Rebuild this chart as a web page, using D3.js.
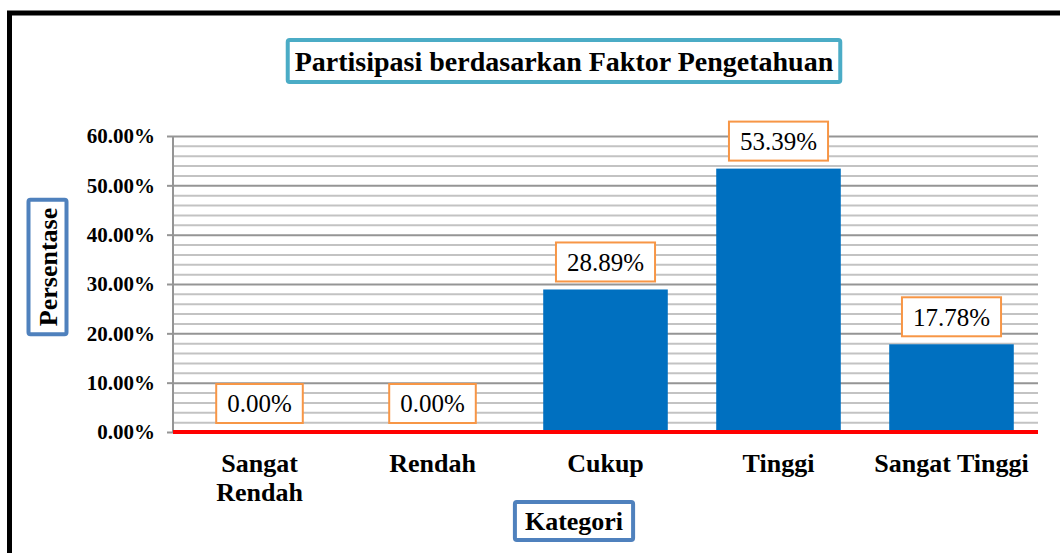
<!DOCTYPE html>
<html>
<head>
<meta charset="utf-8">
<script src="https://cdn.jsdelivr.net/npm/d3@7"></script>
<style>
  body { margin: 0; background: #fff; }
  text { font-family: "Liberation Serif", "Times New Roman", serif; }
</style>
</head>
<body>
<div id="chart"></div>
<script>
    // chart data
    var categories = ["Sangat Rendah", "Rendah", "Cukup", "Tinggi", "Sangat Tinggi"];
    var categoryLines = [["Sangat", "Rendah"], ["Rendah"], ["Cukup"], ["Tinggi"], ["Sangat Tinggi"]];
    var values = [0.00, 0.00, 28.89, 53.39, 17.78];
    var yTicks = [0, 10, 20, 30, 40, 50, 60];

    var svgWidth = 1060;
    var svgHeight = 553;

    var margin = { top: 136, right: 22, bottom: 121, left: 173 };
    var width = svgWidth - margin.left - margin.right;
    var height = svgHeight - margin.top - margin.bottom;

    var svg = d3.select("#chart")
        .append("svg")
        .attr("width", svgWidth)
        .attr("height", svgHeight);

    // outer frame (only top and left visible)
    svg.append("path")
        .attr("d", "M9.5,1000 L9.5,13 L1100,13")
        .attr("fill", "none")
        .attr("stroke", "#000")
        .attr("stroke-width", 5);

    var chartGroup = svg.append("g")
        .attr("transform", `translate(${margin.left}, ${margin.top})`);

    // scales
    var xBandScale = d3.scaleBand()
        .domain(categories)
        .range([0, width])
        .paddingInner(0.28)
        .paddingOuter(0.14);

    var yLinearScale = d3.scaleLinear()
        .domain([0, 60])
        .range([height, 0]);

    // minor + major gridlines
    var minorTicks = d3.range(0, 61, 2).filter(d => d % 10 !== 0);
    chartGroup.append("g")
        .call(d3.axisLeft(yLinearScale).tickValues(minorTicks).tickSize(-width).tickFormat(""))
        .call(g => g.select(".domain").remove())
        .call(g => g.selectAll("line").attr("stroke", "#c3c3c3").attr("stroke-width", 2));

    chartGroup.append("g")
        .call(d3.axisLeft(yLinearScale).tickValues(yTicks).tickSize(-width).tickFormat(""))
        .call(g => g.select(".domain").remove())
        .call(g => g.selectAll("line").attr("stroke", "#959595").attr("stroke-width", 2));

    // left axis with labels
    var leftAxis = d3.axisLeft(yLinearScale)
        .tickValues(yTicks)
        .tickSize(6)
        .tickPadding(12)
        .tickFormat(d => d.toFixed(2) + "%");

    chartGroup.append("g")
        .call(leftAxis)
        .call(g => g.select(".domain").attr("stroke", "#959595").attr("stroke-width", 2)
            .attr("d", `M0,${height}V0`))
        .call(g => g.selectAll(".tick line").attr("stroke", "#959595").attr("stroke-width", 2))
        .call(g => g.selectAll(".tick text")
            .attr("fill", "#000")
            .style("font-family", "'Liberation Serif', 'Times New Roman', serif")
            .style("font-size", "21px")
            .style("font-weight", "bold"));

    // bars
    chartGroup.selectAll(".bar")
        .data(values)
        .enter()
        .append("rect")
        .attr("class", "bar")
        .attr("x", (d, i) => xBandScale(categories[i]))
        .attr("y", d => yLinearScale(d))
        .attr("width", xBandScale.bandwidth())
        .attr("height", d => height - yLinearScale(d))
        .attr("fill", "#0070c0");

    // red baseline
    chartGroup.append("line")
        .attr("x1", 0)
        .attr("x2", width)
        .attr("y1", yLinearScale(0))
        .attr("y2", yLinearScale(0))
        .attr("stroke", "#ff0000")
        .attr("stroke-width", 4);

    // value labels in orange boxes
    var labels = chartGroup.selectAll(".valLabel")
        .data(values)
        .enter()
        .append("g")
        .attr("class", "valLabel");

    labels.each(function(d, i) {
        var g = d3.select(this);
        var cx = xBandScale(categories[i]) + xBandScale.bandwidth() / 2;
        var bottom = yLinearScale(d) - (d === 0 ? 9 : 8);
        var boxH = 39;
        var txt = g.append("text")
            .attr("x", cx)
            .attr("y", bottom - boxH / 2)
            .attr("dy", "0.35em")
            .attr("text-anchor", "middle")
            .style("font-size", "25px")
            .attr("fill", "#000")
            .text(d.toFixed(2) + "%");
        var w = txt.node().getComputedTextLength() + 22;
        g.insert("rect", "text")
            .attr("x", cx - w / 2)
            .attr("y", bottom - boxH)
            .attr("width", w)
            .attr("height", boxH)
            .attr("fill", "#fff")
            .attr("stroke", "#f79646")
            .attr("stroke-width", 2);
    });

    // category labels
    var catGroup = chartGroup.selectAll(".catLabel")
        .data(categoryLines)
        .enter()
        .append("text")
        .attr("class", "catLabel")
        .attr("text-anchor", "middle")
        .attr("transform", (d, i) => `translate(${xBandScale(categories[i]) + xBandScale.bandwidth() / 2}, ${height + 40})`)
        .style("font-size", "26px")
        .style("font-weight", "bold")
        .attr("fill", "#000");

    catGroup.selectAll("tspan")
        .data(d => d)
        .enter()
        .append("tspan")
        .attr("x", 0)
        .attr("y", (d, i) => i * 29)
        .text(d => d);

    // boxed text helper
    function boxedText(x, y, label, size, stroke, padX, padY, rotate) {
        var g = svg.append("g").attr("transform", `translate(${x}, ${y})` + (rotate ? " rotate(-90)" : ""));
        var t = g.append("text")
            .attr("text-anchor", "middle")
            .attr("dy", "0.35em")
            .style("font-size", size + "px")
            .style("font-weight", "bold")
            .attr("fill", "#000")
            .text(label);
        var w = t.node().getComputedTextLength() + padX * 2;
        var h = size + padY * 2;
        g.insert("rect", "text")
            .attr("x", -w / 2)
            .attr("y", -h / 2)
            .attr("width", w)
            .attr("height", h)
            .attr("rx", 2)
            .attr("fill", "#fff")
            .attr("stroke", stroke)
            .attr("stroke-width", 4);
    }

    // title
    boxedText(564, 61, "Partisipasi berdasarkan Faktor Pengetahuan", 28, "#4bacc6", 7, 7, false);

    // axis titles
    boxedText(47.5, 267, "Persentase", 26, "#4f81bd", 8, 6, true);
    boxedText(574, 521, "Kategori", 26, "#4f81bd", 10, 6, false);
</script>
</body>
</html>
